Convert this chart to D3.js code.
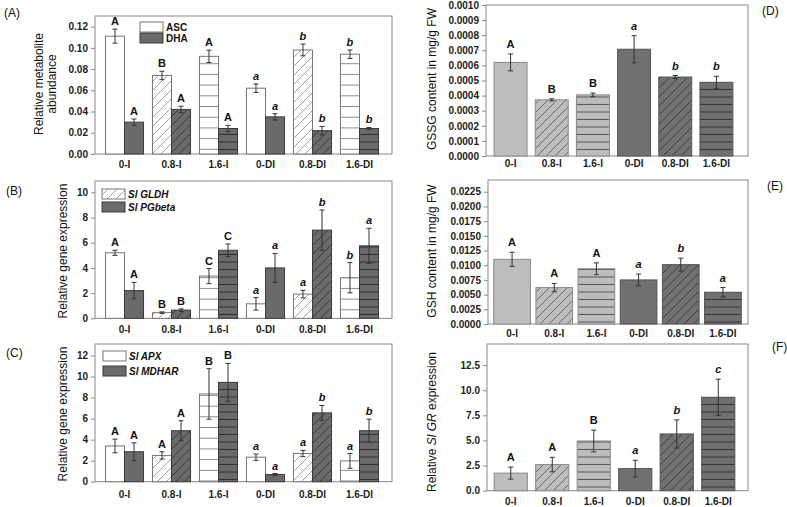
<!DOCTYPE html>
<html><head><meta charset="utf-8">
<script src="https://cdn.jsdelivr.net/npm/d3@7"></script>
<style>body{margin:0;background:#fff} svg{display:block;font-family:Arial,"Liberation Sans",sans-serif}</style>
</head><body><svg width="787" height="507"></svg>
<script>
const categories = ["0-I","0.8-I","1.6-I","0-DI","0.8-DI","1.6-DI"];
const fillTypes = ["solid","diag","horiz","solid","diag","horiz"];

// Panel A
const ascValues = [0.111,0.074,0.092,0.062,0.098,0.094];
const ascErrors = [0.0066,0.004,0.0058,0.004,0.0055,0.004];
const ascLetters = ["A","B","A","a","b","b"];
const dhaValues = [0.030,0.042,0.024,0.035,0.022,0.024];
const dhaErrors = [0.003,0.003,0.003,0.003,0.004,0.001];
const dhaLetters = ["A","A","A","a","b","b"];
const ticksA = [0,0.02,0.04,0.06,0.08,0.10,0.12];
// Panel B
const gldhValues = [5.2,0.45,3.35,1.15,1.92,3.22];
const gldhErrors = [0.2,0.06,0.6,0.5,0.3,1.2];
const gldhLetters = ["A","B","C","a","a","b"];
const pgbValues = [2.2,0.65,5.4,4.0,7.0,5.75];
const pgbErrors = [0.65,0.1,0.5,1.15,1.6,1.4];
const pgbLetters = ["A","B","C","a","b","a"];
const ticksB = [0,2,4,6,8,10];
// Panel C
const apxValues = [3.4,2.5,8.35,2.33,2.68,1.98];
const apxErrors = [0.65,0.35,2.4,0.3,0.3,0.7];
const apxLetters = ["A","A","B","a","a","a"];
const mdharValues = [2.85,4.85,9.45,0.68,6.55,4.85];
const mdharErrors = [0.85,0.95,1.8,0.1,0.7,1.1];
const mdharLetters = ["A","A","B","a","b","b"];
const ticksC = [0,2,4,6,8,10,12];
// Panel D
const gssgValues = [0.00062,0.000372,0.000405,0.000707,0.000523,0.000488];
const gssgErrors = [0.000056,0.000007,0.000012,0.00009,0.00001,0.00004];
const gssgLetters = ["A","B","B","a","b","b"];
const ticksD = [0,0.0001,0.0002,0.0003,0.0004,0.0005,0.0006,0.0007,0.0008,0.0009,0.0010];
// Panel E
const gshValues = [0.0110,0.0062,0.0094,0.0075,0.0101,0.0054];
const gshErrors = [0.0012,0.0007,0.001,0.001,0.0011,0.0008];
const gshLetters = ["A","A","A","a","b","a"];
const ticksE = [0,0.0025,0.005,0.0075,0.01,0.0125,0.015,0.0175,0.02,0.0225];
// Panel F
const grValues = [1.75,2.6,4.95,2.2,5.65,9.3];
const grErrors = [0.6,0.72,1.08,0.83,1.4,1.8];
const grLetters = ["A","A","B","a","b","c"];
const ticksF = [0,2.5,5,7.5,10,12.5];

const FONT = 'Arial,"Liberation Sans",sans-serif';
const svg = d3.select("svg");
const defs = svg.append("defs");
const schemes = {
  white: {bg:"#ffffff", line:"#8a8a8a", stroke:"#777777", hs:10.7, ds:9},
  darkL: {bg:"#6a6a6a", line:"#2e2e2e", stroke:"#3a3a3a", hs:7.5, ds:9},
  light: {bg:"#bdbdbd", line:"#555555", stroke:"#8a8a8a", hs:7.5, ds:9},
  darkR: {bg:"#707070", line:"#333333", stroke:"#555555", hs:7.5, ds:9}
};
Object.entries(schemes).forEach(([k,s])=>{
  const d = s.ds;
  const pd = defs.append("pattern").attr("id",k+"-diag").attr("patternUnits","userSpaceOnUse").attr("width",d).attr("height",d);
  pd.append("rect").attr("width",d).attr("height",d).attr("fill",s.bg);
  pd.append("path").attr("d",`M0,${d} L${d},0 M${-d/2},${d/2} L${d/2},${-d/2} M${d/2},${d*1.5} L${d*1.5},${d/2}`)
    .attr("stroke",s.line).attr("stroke-width",0.8);
  const ph = defs.append("pattern").attr("id",k+"-horiz").attr("patternUnits","userSpaceOnUse").attr("width",10).attr("height",s.hs);
  ph.append("rect").attr("width",10).attr("height",s.hs).attr("fill",s.bg);
  ph.append("line").attr("x1",0).attr("x2",10).attr("y1",s.hs-0.5).attr("y2",s.hs-0.5).attr("stroke",s.line).attr("stroke-width",1);
});
function fillFor(scheme,type){ return type==="solid" ? schemes[scheme].bg : `url(#${scheme}-${type})`; }

function panel(cfg){
  const g = svg.append("g");
  const y = d3.scaleLinear().domain([0,cfg.ymax]).range([cfg.bottom,cfg.top]);
  const x = d3.scaleBand().domain(categories).range(cfg.band);
  const ag = g.append("g").attr("transform",`translate(${cfg.left},0)`)
    .call(d3.axisLeft(y).tickValues(cfg.ticks).tickFormat(cfg.fmt).tickSize(4).tickPadding(3));
  ag.select(".domain").remove();
  ag.selectAll("line").attr("stroke","#888");
  ag.selectAll("text").attr("font-size",10).attr("font-weight","bold").attr("fill","#222").attr("font-family",FONT);
  g.append("rect").attr("x",cfg.left).attr("y",cfg.top).attr("width",cfg.right-cfg.left).attr("height",cfg.bottom-cfg.top)
    .attr("fill","none").attr("stroke","#888");
  const xg = g.append("g").attr("transform",`translate(0,${cfg.labelY})`).call(d3.axisBottom(x).tickSize(0));
  xg.select(".domain").remove();
  xg.selectAll("text").attr("y",0).attr("dy",0).attr("font-size",10).attr("font-weight","bold").attr("fill","#222").attr("font-family",FONT);

  const n = cfg.series.length;
  const groupW = x.bandwidth()*cfg.fillFrac;
  const bw = groupW/n;
  cfg.series.forEach((s,si)=>{
    const data = categories.map((c,i)=>({c,i,v:s.values[i],e:s.errors[i],l:s.letters[i],t:fillTypes[i]}));
    const bg = g.append("g");
    const bx = d=> x(d.c)+(x.bandwidth()-groupW)/2+si*bw;
    bg.selectAll("rect").data(data).join("rect")
      .attr("x",bx).attr("y",d=>y(d.v)).attr("width",bw).attr("height",d=>cfg.bottom-y(d.v))
      .attr("fill",d=>fillFor(s.scheme(d.i),d.t)).attr("stroke",d=>schemes[s.scheme(d.i)].stroke).attr("stroke-width",1);
    const eg = bg.selectAll("g.err").data(data).join("g").attr("class","err");
    eg.append("line").attr("x1",d=>bx(d)+bw/2).attr("x2",d=>bx(d)+bw/2).attr("y1",d=>y(d.v+d.e)).attr("y2",d=>y(Math.max(0,d.v-d.e)))
      .attr("stroke","#333").attr("stroke-width",1);
    [1,-1].forEach(sg=>{
      eg.append("line").attr("x1",d=>bx(d)+bw/2-2.5).attr("x2",d=>bx(d)+bw/2+2.5)
        .attr("y1",d=>y(Math.max(0,d.v+sg*d.e))).attr("y2",d=>y(Math.max(0,d.v+sg*d.e))).attr("stroke","#333").attr("stroke-width",1);
    });
    bg.selectAll("text").data(data).join("text")
      .attr("x",d=>bx(d)+bw/2).attr("y",d=>y(d.v+d.e)-cfg.letterGap).attr("text-anchor","middle")
      .attr("font-size",11).attr("font-weight","bold").attr("font-family",FONT)
      .attr("font-style",d=>d.l===d.l.toLowerCase()?"italic":"normal").attr("fill","#111").text(d=>d.l);
  });
  cfg.title.forEach((line,k)=>{
    const t = svg.append("text").attr("transform",`translate(${cfg.titleX[k]},${cfg.titleY}) rotate(-90)`)
      .attr("text-anchor","middle").attr("dy","0.35em").attr("font-size",12).attr("font-family",FONT).attr("fill","#111");
    line.forEach(seg=> t.append("tspan").attr("font-style",seg[1]?"italic":"normal").text(seg[0]));
  });
  svg.append("text").attr("x",cfg.tag[0]).attr("y",cfg.tag[1]).attr("font-size",12).attr("font-family",FONT).attr("fill","#111").text(cfg.tag[2]);
  if(cfg.legend){
    cfg.legend.forEach(it=>{
      svg.append("rect").attr("x",it.x).attr("y",it.y).attr("width",23).attr("height",10)
        .attr("fill",fillFor(it.scheme,it.type)).attr("stroke",schemes[it.scheme].stroke);
      const t = svg.append("text").attr("x",it.x+26).attr("y",it.y+8.5).attr("font-size",10).attr("font-weight","bold")
        .attr("font-family",FONT).attr("fill","#111");
      it.label.forEach(seg=> t.append("tspan").attr("font-style",seg[1]?"italic":"normal").text(seg[0]));
    });
  }
}
const whiteS = ()=>"white", darkS = ()=>"darkL", rightS = i=> i<3 ? "light" : "darkR";

panel({left:95,right:392,top:16,bottom:154,ymax:0.130,band:[101,383],fillFrac:0.81,ticks:ticksA,fmt:d3.format(".2f"),
  labelY:168,letterGap:4,title:[[["Relative metabolite"]],[["abundance"]]],titleX:[39,52],titleY:84,tag:[4,17,"(A)"],
  series:[{values:ascValues,errors:ascErrors,letters:ascLetters,scheme:whiteS},
          {values:dhaValues,errors:dhaErrors,letters:dhaLetters,scheme:darkS}],
  legend:[{x:140,y:22,scheme:"white",type:"solid",label:[["ASC"]]},{x:140,y:33,scheme:"darkL",type:"solid",label:[["DHA"]]}]});

panel({left:95,right:392,top:181,bottom:318.3,ymax:10.9,band:[101,383],fillFrac:0.81,ticks:ticksB,fmt:d3.format("d"),
  labelY:333,letterGap:4,title:[[["Relative gene expression"]]],titleX:[63],titleY:251,tag:[6,195,"(B)"],
  series:[{values:gldhValues,errors:gldhErrors,letters:gldhLetters,scheme:whiteS},
          {values:pgbValues,errors:pgbErrors,letters:pgbLetters,scheme:darkS}],
  legend:[{x:102,y:189,scheme:"white",type:"diag",label:[["Sl GLDH",true]]},{x:102,y:202,scheme:"darkL",type:"solid",label:[["Sl PGbeta",true]]}]});

panel({left:95,right:392,top:344,bottom:481.7,ymax:13.1,band:[101,383],fillFrac:0.81,ticks:ticksC,fmt:d3.format("d"),
  labelY:498,letterGap:4,title:[[["Relative gene expression"]]],titleX:[63],titleY:414,tag:[6,357,"(C)"],
  series:[{values:apxValues,errors:apxErrors,letters:apxLetters,scheme:whiteS},
          {values:mdharValues,errors:mdharErrors,letters:mdharLetters,scheme:darkS}],
  legend:[{x:103,y:351,scheme:"white",type:"solid",label:[["Sl APX",true]]},{x:103,y:366,scheme:"darkL",type:"solid",label:[["Sl MDHAR",true]]}]});

panel({left:486,right:748,top:5,bottom:156,ymax:0.001,band:[490,737],fillFrac:0.8,ticks:ticksD,fmt:d3.format(".4f"),
  labelY:167,letterGap:6,title:[[["GSSG content in mg/g FW"]]],titleX:[432],titleY:79,tag:[762,15,"(D)"],
  series:[{values:gssgValues,errors:gssgErrors,letters:gssgLetters,scheme:rightS}]});

panel({left:488,right:748,top:180,bottom:324,ymax:0.0245,band:[491,744],fillFrac:0.87,ticks:ticksE,fmt:d3.format(".4f"),
  labelY:337,letterGap:6,title:[[["GSH content in mg/g FW"]]],titleX:[432],titleY:251,tag:[767,190,"(E)"],
  series:[{values:gshValues,errors:gshErrors,letters:gshLetters,scheme:rightS}]});

panel({left:487,right:748,top:344,bottom:490.7,ymax:14.6,band:[490,739],fillFrac:0.8,ticks:ticksF,fmt:d3.format(".1f"),
  labelY:505,letterGap:6,title:[[["Relative "],["Sl GR",true],["  expression"]]],titleX:[432],titleY:422,tag:[772,351,"(F)"],
  series:[{values:grValues,errors:grErrors,letters:grLetters,scheme:rightS}]});
</script></body></html>
